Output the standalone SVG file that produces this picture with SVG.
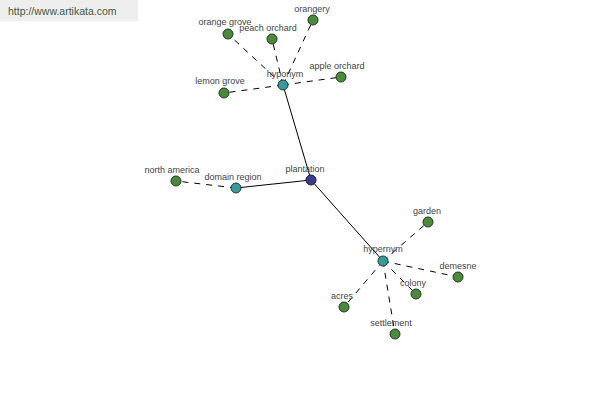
<svg xmlns="http://www.w3.org/2000/svg" width="600" height="400" viewBox="0 0 600 400">
<style>
.lbl{font-family:"Liberation Sans",Arial,sans-serif;font-size:9px;fill:#444;text-anchor:middle}
.leaf{fill:#4a8a3a;stroke:#1e3a1e;stroke-width:1}
.mid{fill:#3a9a98;stroke:#1e3a3a;stroke-width:1}
.root{fill:#3c3c8a;stroke:#1a1a3a;stroke-width:1}
.solid{stroke:#000;stroke-width:1;fill:none}
.dash{stroke:#000;stroke-width:1;fill:none;stroke-dasharray:6,6}
</style>
<rect width="600" height="400" fill="#fff"/>
<rect x="0" y="0" width="138" height="21" fill="#eeeeee"/>
<text x="8" y="15" font-family="Liberation Sans,Arial,sans-serif" font-size="10.5" fill="#3d5a3d">http://www.artikata.com</text>
<g id="connectors">
<line class="solid" x1="311" y1="180" x2="283" y2="85"/>
<line class="solid" x1="311" y1="180" x2="383" y2="261"/>
<line class="solid" x1="311" y1="180" x2="236" y2="188"/>
<line class="dash" x1="236" y1="188" x2="176" y2="181"/>
<line class="dash" x1="283" y1="85" x2="228" y2="34"/>
<line class="dash" x1="283" y1="85" x2="272" y2="39"/>
<line class="dash" x1="283" y1="85" x2="313" y2="20"/>
<line class="dash" x1="283" y1="85" x2="341" y2="77"/>
<line class="dash" x1="283" y1="85" x2="224" y2="93"/>
<line class="dash" x1="383" y1="261" x2="428" y2="222"/>
<line class="dash" x1="383" y1="261" x2="458" y2="277"/>
<line class="dash" x1="383" y1="261" x2="416" y2="294"/>
<line class="dash" x1="383" y1="261" x2="344" y2="307"/>
<line class="dash" x1="383" y1="261" x2="395" y2="334"/>
</g>
<g id="plantation"><circle class="root" cx="311" cy="180" r="5"/><text class="lbl" x="305" y="172">plantation</text></g>
<g id="hyponym"><circle class="mid" cx="283" cy="85" r="5"/><text class="lbl" x="285" y="77">hyponym</text></g>
<g id="hypernym"><circle class="mid" cx="383" cy="261" r="5"/><text class="lbl" x="383" y="252">hypernym</text></g>
<g id="domain-region"><circle class="mid" cx="236" cy="188" r="5"/><text class="lbl" x="233" y="180">domain region</text></g>
<g id="north-america"><circle class="leaf" cx="176" cy="181" r="5"/><text class="lbl" x="172" y="173">north america</text></g>
<g id="orange-grove"><circle class="leaf" cx="228" cy="34" r="5"/><text class="lbl" x="225" y="25">orange grove</text></g>
<g id="peach-orchard"><circle class="leaf" cx="272" cy="39" r="5"/><text class="lbl" x="268" y="31">peach orchard</text></g>
<g id="orangery"><circle class="leaf" cx="313" cy="20" r="5"/><text class="lbl" x="312" y="12">orangery</text></g>
<g id="apple-orchard"><circle class="leaf" cx="341" cy="77" r="5"/><text class="lbl" x="337" y="69">apple orchard</text></g>
<g id="lemon-grove"><circle class="leaf" cx="224" cy="93" r="5"/><text class="lbl" x="220" y="84">lemon grove</text></g>
<g id="garden"><circle class="leaf" cx="428" cy="222" r="5"/><text class="lbl" x="427" y="214">garden</text></g>
<g id="demesne"><circle class="leaf" cx="458" cy="277" r="5"/><text class="lbl" x="458" y="269">demesne</text></g>
<g id="colony"><circle class="leaf" cx="416" cy="294" r="5"/><text class="lbl" x="413" y="286">colony</text></g>
<g id="acres"><circle class="leaf" cx="344" cy="307" r="5"/><text class="lbl" x="342" y="299">acres</text></g>
<g id="settlement"><circle class="leaf" cx="395" cy="334" r="5"/><text class="lbl" x="391" y="326">settlement</text></g>
</svg>
